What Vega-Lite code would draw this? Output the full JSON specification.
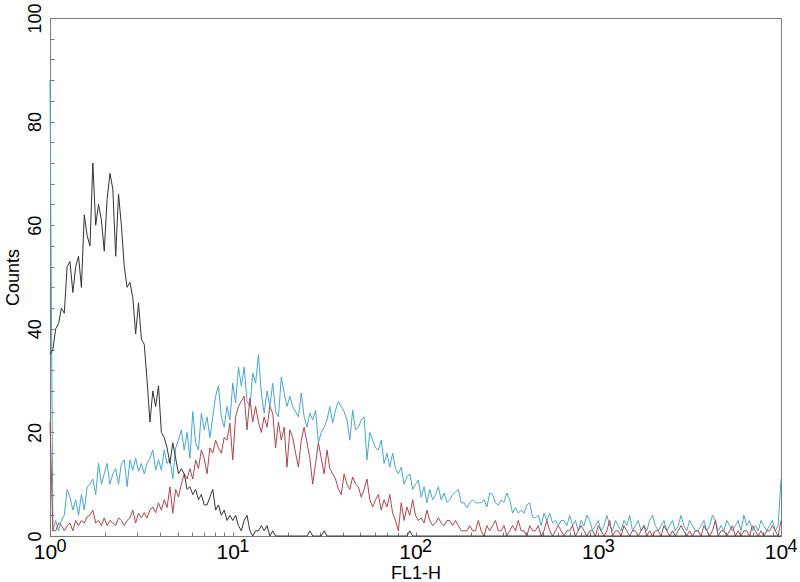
{
  "$schema": "https://vega.github.io/schema/vega-lite/v6.json",
  "width": 731,
  "height": 518,
  "autosize": {"type": "none"},
  "padding": {"left": 50, "top": 18, "right": 19, "bottom": 46},
  "background": "white",
  "config": {
    "font": "Liberation Sans",
    "view": {"stroke": "#7a7a7a", "strokeWidth": 1},
    "axis": {"grid": false, "domainColor": "#7a7a7a", "tickColor": "#7a7a7a", "labelColor": "#000", "titleColor": "#000", "titleFontWeight": "normal"}
  },
  "data": {"values": [
{"c":0,"k":35,"r":22,"b":88},{"c":1,"k":36,"r":1,"b":1},{"c":2,"k":40,"r":1,"b":3},{"c":3,"k":41,"r":2.5,"b":1},{"c":4,"k":44,"r":2,"b":3},
{"c":5,"k":43,"r":1,"b":4},{"c":6,"k":52,"r":2,"b":9},{"c":7,"k":53,"r":2.5,"b":7.5},{"c":8,"k":47,"r":1,"b":5},{"c":9,"k":52,"r":3,"b":7},
{"c":10,"k":54,"r":2,"b":4},{"c":11,"k":48,"r":3,"b":8},{"c":12,"k":62,"r":2.5,"b":5},{"c":13,"k":58,"r":3.7,"b":9.5},{"c":14,"k":56,"r":4,"b":10},
{"c":15,"k":72,"r":5,"b":11},{"c":16,"k":60,"r":2.5,"b":8},{"c":17,"k":64,"r":3,"b":14},{"c":18,"k":61,"r":2,"b":10},{"c":19,"k":55,"r":3.5,"b":12},
{"c":20,"k":65,"r":2,"b":14},{"c":21,"k":70,"r":3,"b":10},{"c":22,"k":67,"r":2.5,"b":12},{"c":23,"k":54,"r":2,"b":13},{"c":24,"k":66,"r":3.5,"b":10},
{"c":25,"k":60,"r":3,"b":14},{"c":26,"k":52,"r":2,"b":14.7},{"c":27,"k":48,"r":3,"b":9.5},{"c":28,"k":49,"r":3.5,"b":14.7},{"c":29,"k":46,"r":5,"b":12.7},
{"c":30,"k":39,"r":2.5,"b":15},{"c":31,"k":45,"r":4.4,"b":12.5},{"c":32,"k":38,"r":3.5,"b":14},{"c":33,"k":37,"r":4.5,"b":12},{"c":34,"k":30,"r":3.5,"b":14},
{"c":35,"k":22,"r":5,"b":15},{"c":36,"k":28,"r":5.6,"b":16.6},{"c":37,"k":25,"r":4.5,"b":12.7},{"c":38,"k":29,"r":6.4,"b":14.7},{"c":39,"k":20,"r":5,"b":12.7},
{"c":40,"k":19,"r":7,"b":16.6},{"c":41,"k":17,"r":5.5,"b":14},{"c":42,"k":14,"r":9.5,"b":15},{"c":43,"k":18,"r":4.4,"b":11},{"c":44,"k":15,"r":9,"b":17},
{"c":45,"k":12,"r":7.5,"b":18.5},{"c":46,"k":13,"r":10,"b":20.5},{"c":47,"k":12,"r":12,"b":16.6},{"c":48,"k":9,"r":11,"b":20},{"c":49,"k":9.5,"r":13,"b":15},
{"c":50,"k":8,"r":11,"b":24},{"c":51,"k":9,"r":14.7,"b":18},{"c":52,"k":7,"r":13,"b":16.6},{"c":53,"k":8,"r":16.6,"b":23.7},{"c":54,"k":6,"r":15,"b":20.5},
{"c":55,"k":6,"r":12,"b":23},{"c":56,"k":7.5,"r":17,"b":19},{"c":57,"k":9,"r":16,"b":23},{"c":58,"k":5,"r":18.5,"b":27},{"c":59,"k":6,"r":17,"b":29},
{"c":60,"k":4,"r":16,"b":23},{"c":61,"k":5,"r":19,"b":21},{"c":62,"k":3,"r":18.5,"b":25},{"c":63,"k":4,"r":21.8,"b":22.4},{"c":64,"k":3,"r":14.7,"b":29.5},
{"c":65,"k":4,"r":23,"b":25.7},{"c":66,"k":2,"r":25,"b":32.6},{"c":67,"k":1,"r":26,"b":29},{"c":68,"k":3,"r":27,"b":32.6},{"c":69,"k":4,"r":20.5,"b":26},
{"c":70,"k":1,"r":26.6,"b":25},{"c":71,"k":0,"r":22,"b":31.5},{"c":72,"k":1,"r":25,"b":29.5},{"c":73,"k":1,"r":22,"b":35},{"c":74,"k":2,"r":20,"b":27.6},
{"c":75,"k":1,"r":23,"b":23.7},{"c":76,"k":2,"r":21,"b":28},{"c":77,"k":0,"r":25,"b":25},{"c":78,"k":1,"r":23.7,"b":29.5},{"c":79,"k":0,"r":17,"b":24},
{"c":80,"k":0,"r":22,"b":23},{"c":81,"k":0,"r":18.5,"b":30.7},{"c":82,"k":0,"r":21,"b":27.6},{"c":83,"k":0,"r":13.3,"b":25},{"c":84,"k":0,"r":20.5,"b":27},
{"c":85,"k":0,"r":19,"b":25},{"c":86,"k":0,"r":16,"b":24},{"c":87,"k":0,"r":13.3,"b":23},{"c":88,"k":0,"r":18.5,"b":27.6},{"c":89,"k":0,"r":21,"b":23},
{"c":90,"k":0,"r":18,"b":21},{"c":91,"k":1,"r":15,"b":23.7},{"c":92,"k":0,"r":10,"b":22.4},{"c":93,"k":0,"r":14,"b":24.3},{"c":94,"k":0,"r":18,"b":18},
{"c":95,"k":0,"r":15,"b":20},{"c":96,"k":1,"r":12,"b":21},{"c":97,"k":0,"r":16.6,"b":22.4},{"c":98,"k":0,"r":13,"b":25},{"c":99,"k":0,"r":12,"b":21.8},
{"c":100,"k":0,"r":11,"b":24.3},{"c":101,"k":0,"r":9,"b":26},{"c":102,"k":0,"r":8,"b":25},{"c":103,"k":0,"r":12,"b":24},{"c":104,"k":0,"r":10,"b":22.4},
{"c":105,"k":0,"r":9,"b":18.5},{"c":106,"k":0,"r":11.4,"b":24.3},{"c":107,"k":0,"r":10,"b":20.5},{"c":108,"k":0,"r":9.5,"b":21},{"c":109,"k":0,"r":7.5,"b":22.4},
{"c":110,"k":0,"r":9,"b":23},{"c":111,"k":0,"r":11,"b":14.7},{"c":112,"k":0,"r":7,"b":20},{"c":113,"k":0,"r":5.6,"b":18.5},{"c":114,"k":0,"r":7,"b":17},
{"c":115,"k":0,"r":8,"b":16.6},{"c":116,"k":0,"r":5,"b":18.5},{"c":117,"k":0,"r":7,"b":14},{"c":118,"k":0,"r":5.6,"b":16},{"c":119,"k":0,"r":8,"b":13.3},
{"c":120,"k":0,"r":4.4,"b":16},{"c":121,"k":0,"r":3,"b":13},{"c":122,"k":0,"r":1,"b":12},{"c":123,"k":0,"r":6.4,"b":13.3},{"c":124,"k":0,"r":3,"b":10},
{"c":125,"k":0,"r":5.6,"b":11.4},{"c":126,"k":1,"r":4,"b":12},{"c":127,"k":0,"r":7,"b":9},{"c":128,"k":0,"r":4,"b":10},{"c":129,"k":0,"r":3,"b":10.8},
{"c":130,"k":0,"r":3.5,"b":7.5},{"c":131,"k":0,"r":2.5,"b":9.5},{"c":132,"k":0,"r":5,"b":6.4},{"c":133,"k":0,"r":3,"b":9},{"c":134,"k":0,"r":2,"b":7},
{"c":135,"k":0,"r":2.5,"b":8},{"c":136,"k":0,"r":3.5,"b":9.5},{"c":137,"k":0,"r":2.5,"b":7},{"c":138,"k":0,"r":2,"b":8.3},{"c":139,"k":0,"r":3,"b":6.5},
{"c":140,"k":0,"r":3,"b":7},{"c":141,"k":0,"r":2,"b":8},{"c":142,"k":0,"r":3,"b":8.5},{"c":143,"k":0,"r":2,"b":9},{"c":144,"k":0,"r":1,"b":6.4},
{"c":145,"k":0,"r":1,"b":6.4},{"c":146,"k":0,"r":1,"b":5.5},{"c":147,"k":0,"r":2,"b":6.4},{"c":148,"k":0,"r":1,"b":7},{"c":149,"k":0,"r":1,"b":6.4},
{"c":150,"k":0,"r":3,"b":6.4},{"c":151,"k":0,"r":1,"b":6.4},{"c":152,"k":0,"r":0,"b":7},{"c":153,"k":0,"r":2,"b":5.6},{"c":154,"k":0,"r":1,"b":8.3},
{"c":155,"k":0,"r":2,"b":8},{"c":156,"k":0,"r":3,"b":6.4},{"c":157,"k":0,"r":1,"b":6},{"c":158,"k":0,"r":1,"b":7},{"c":159,"k":0,"r":2,"b":6.5},
{"c":160,"k":0,"r":0,"b":8.3},{"c":161,"k":0,"r":1,"b":7},{"c":162,"k":0,"r":2,"b":4.4},{"c":163,"k":0,"r":1,"b":5.5},{"c":164,"k":0,"r":3,"b":4.4},
{"c":165,"k":0,"r":1,"b":5},{"c":166,"k":0,"r":1,"b":4.4},{"c":167,"k":0,"r":0,"b":6},{"c":168,"k":0,"r":2,"b":6.4},{"c":169,"k":0,"r":1,"b":3.7},
{"c":170,"k":0,"r":1,"b":3.5},{"c":171,"k":0,"r":2,"b":4},{"c":172,"k":0,"r":0,"b":2},{"c":173,"k":0,"r":1,"b":4.4},{"c":174,"k":0,"r":3,"b":3},
{"c":175,"k":0,"r":1,"b":4.4},{"c":176,"k":0,"r":0,"b":2.5},{"c":177,"k":0,"r":1,"b":3},{"c":178,"k":0,"r":2,"b":2},{"c":179,"k":0,"r":1,"b":3},
{"c":180,"k":0,"r":0,"b":3},{"c":181,"k":0,"r":1,"b":2},{"c":182,"k":0,"r":1,"b":4},{"c":183,"k":0,"r":2,"b":2},{"c":184,"k":0,"r":0,"b":3},
{"c":185,"k":0,"r":1,"b":1},{"c":186,"k":0,"r":2,"b":3},{"c":187,"k":0,"r":1,"b":2},{"c":188,"k":0,"r":0,"b":4},{"c":189,"k":0,"r":1,"b":3},
{"c":190,"k":0,"r":1,"b":1},{"c":191,"k":0,"r":0,"b":2},{"c":192,"k":0,"r":2,"b":3},{"c":193,"k":0,"r":1,"b":1},{"c":194,"k":0,"r":0,"b":2},
{"c":195,"k":0,"r":1,"b":4},{"c":196,"k":0,"r":3,"b":2},{"c":197,"k":0,"r":0,"b":1},{"c":198,"k":0,"r":1,"b":3},{"c":199,"k":0,"r":1,"b":2},
{"c":200,"k":0,"r":0,"b":1},{"c":201,"k":0,"r":2,"b":3},{"c":202,"k":0,"r":1,"b":2},{"c":203,"k":0,"r":0,"b":4},{"c":204,"k":0,"r":1,"b":1},
{"c":205,"k":0,"r":1,"b":2},{"c":206,"k":0,"r":0,"b":3},{"c":207,"k":0,"r":1,"b":1},{"c":208,"k":0,"r":2,"b":2},{"c":209,"k":0,"r":0,"b":1},
{"c":210,"k":0,"r":1,"b":3},{"c":211,"k":0,"r":0,"b":4},{"c":212,"k":0,"r":1,"b":2},{"c":213,"k":0,"r":1,"b":1},{"c":214,"k":0,"r":0,"b":2},
{"c":215,"k":0,"r":2,"b":3},{"c":216,"k":0,"r":1,"b":1},{"c":217,"k":0,"r":0,"b":2},{"c":218,"k":0,"r":1,"b":3},{"c":219,"k":0,"r":0,"b":1},
{"c":220,"k":0,"r":1,"b":2},{"c":221,"k":0,"r":2,"b":4},{"c":222,"k":0,"r":1,"b":2},{"c":223,"k":0,"r":0,"b":1},{"c":224,"k":0,"r":1,"b":3},
{"c":225,"k":0,"r":0,"b":2},{"c":226,"k":0,"r":1,"b":1},{"c":227,"k":0,"r":1,"b":1},{"c":228,"k":0,"r":0,"b":2},{"c":229,"k":0,"r":2,"b":3},
{"c":230,"k":0,"r":1,"b":1},{"c":231,"k":0,"r":0,"b":2},{"c":232,"k":0,"r":1,"b":4},{"c":233,"k":0,"r":3,"b":3},{"c":234,"k":0,"r":0,"b":1},
{"c":235,"k":0,"r":1,"b":2},{"c":236,"k":0,"r":1,"b":1},{"c":237,"k":0,"r":0,"b":3},{"c":238,"k":0,"r":1,"b":2},{"c":239,"k":0,"r":2,"b":1},
{"c":240,"k":0,"r":0,"b":2},{"c":241,"k":0,"r":1,"b":3},{"c":242,"k":0,"r":0,"b":1},{"c":243,"k":0,"r":1,"b":4},{"c":244,"k":0,"r":1,"b":2},
{"c":245,"k":0,"r":0,"b":3},{"c":246,"k":0,"r":2,"b":1},{"c":247,"k":0,"r":1,"b":2},{"c":248,"k":0,"r":0,"b":1},{"c":249,"k":0,"r":1,"b":3},
{"c":250,"k":0,"r":0,"b":2},{"c":251,"k":0,"r":1,"b":1},{"c":252,"k":0,"r":1,"b":2},{"c":253,"k":0,"r":2,"b":3},{"c":254,"k":0,"r":1,"b":1},
{"c":255,"k":0,"r":0,"b":2},{"c":256,"k":0,"r":3,"b":11}
  ]},
  "transform": [{"fold": ["b", "r", "k"], "as": ["s", "v"]}],
  "encoding": {
    "y": {
      "field": "v", "type": "quantitative",
      "scale": {"domain": [0, 100], "nice": false},
      "axis": {
        "title": "Counts", "titleFontSize": 18, "titlePadding": 4,
        "labelFontSize": 18, "labelAngle": -90, "labelAlign": "center", "labelBaseline": "bottom",
        "labelPadding": 10, "tickSize": -4, "labelFlush": false, "labelOverlap": false,
        "values": [0,4,8,12,16,20,24,28,32,36,40,44,48,52,56,60,64,68,72,76,80,84,88,92,96,100],
        "labelExpr": "datum.value % 20 == 0 ? datum.label : ''"
      }
    }
  },
  "layer": [
    {
      "transform": [{"filter": "datum.s == 'b'"}],
      "mark": {"type": "line", "color": "#45a8d2", "strokeWidth": 1},
      "encoding": {
        "x": {
          "field": "c", "type": "quantitative",
          "scale": {"domain": [0, 256], "nice": false, "zero": false},
          "axis": {
            "orient": "bottom",
            "title": "FL1-H", "titleFontSize": 18, "titlePadding": 2,
            "labelFontSize": 21, "labelPadding": 9, "labelOffset": -5, "tickSize": -4, "labelFlush": false, "labelOverlap": false,
            "values": [0,19.27,30.54,38.53,44.73,49.8,54.09,57.8,61.07,64,83.27,94.54,102.53,108.73,113.8,118.09,121.8,125.07,128,147.27,158.54,166.53,172.73,177.8,182.09,185.8,189.07,192,211.27,222.54,230.53,236.73,241.8,246.09,249.8,253.07,256],
            "labelExpr": "datum.value % 64 == 0 ? '10' : ''"
          }
        }
      }
    },
    {
      "transform": [{"filter": "datum.s == 'r'"}],
      "mark": {"type": "line", "color": "#b5424a", "strokeWidth": 1},
      "encoding": {
        "x": {
          "field": "c", "type": "quantitative",
          "axis": {
            "orient": "bottom", "title": null, "domain": false, "ticks": false,
            "labelFontSize": 18, "labelPadding": 1, "labelOffset": 11,
            "labelFlush": false, "labelOverlap": false,
            "values": [0, 64, 128, 192, 256],
            "labelExpr": "'' + round(datum.value / 64)"
          }
        }
      }
    },
    {
      "transform": [{"filter": "datum.s == 'k'"}],
      "mark": {"type": "line", "color": "#333333", "strokeWidth": 1},
      "encoding": {"x": {"field": "c", "type": "quantitative", "axis": null}}
    }
  ],
  "resolve": {"axis": {"x": "independent"}}
}
